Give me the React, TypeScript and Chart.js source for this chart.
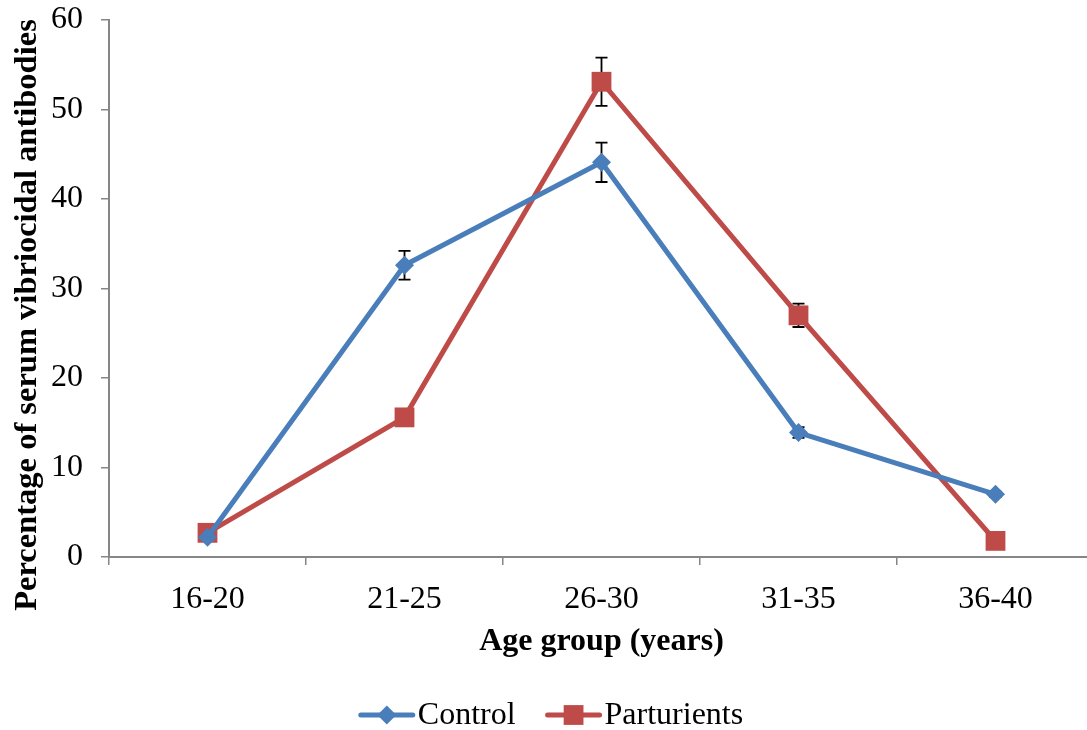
import React, { useEffect, useRef } from "react";
import { Chart, registerables } from "chart.js";

Chart.register(...registerables);

const categories = ["16-20", "21-25", "26-30", "31-35", "36-40"];
const controlValues = [2.2, 32.6, 44.1, 13.9, 7.0];
const controlErrors = [0.3, 1.6, 2.2, 0.6, 0.3];
const parturientValues = [2.7, 15.6, 53.1, 27.0, 1.8];
const parturientErrors = [0.3, 0.5, 2.7, 1.3, 0.3];
const yTicks = [0, 10, 20, 30, 40, 50, 60];
const seriesLabels = ["Control", "Parturients"];
const yTitle = "Percentage of serum vibriocidal antibodies";
const xTitle = "Age group (years)";

const FONT = "'Liberation Serif', 'Times New Roman', serif";
const FS = 32;
const BLUE = "#4A7EBB";
const RED = "#BE4B48";
const AXIS = "#868686";

const errorBarPlugin = {
  id: "errorBars",
  beforeDatasetsDraw(chart: any) {
    const ctx = chart.ctx;
    const yScale = chart.scales.y;
    chart.data.datasets.forEach((ds: any, i: number) => {
      const meta = chart.getDatasetMeta(i);
      const errs: number[] = ds.errors || [];
      meta.data.forEach((el: any, j: number) => {
        const v = ds.data[j];
        const e = errs[j] || 0;
        const x = el.x;
        const yt = yScale.getPixelForValue(v + e);
        const yb = yScale.getPixelForValue(v - e);
        ctx.save();
        ctx.strokeStyle = "#000";
        ctx.lineWidth = 1.8;
        ctx.beginPath();
        ctx.moveTo(x, yt);
        ctx.lineTo(x, yb);
        ctx.moveTo(x - 6, yt);
        ctx.lineTo(x + 6, yt);
        ctx.moveTo(x - 6, yb);
        ctx.lineTo(x + 6, yb);
        ctx.stroke();
        ctx.restore();
      });
    });
  },
};

const yTitlePlugin = {
  id: "yTitle",
  afterDraw(chart: any) {
    const ctx = chart.ctx;
    ctx.save();
    ctx.translate(28, 315);
    ctx.rotate(-Math.PI / 2);
    ctx.font = `bold 32.5px ${FONT}`;
    ctx.fillStyle = "#000";
    ctx.textAlign = "center";
    ctx.textBaseline = "middle";
    ctx.fillText(yTitle, 0, 0);
    ctx.restore();
  },
};

const legendPlugin = {
  id: "customLegend",
  afterDraw(chart: any) {
    const ctx = chart.ctx;
    const centerX = 551;
    const y = 715;
    const lineLen = 56;
    const gapText = 3;
    const gapItems = 30;
    ctx.save();
    ctx.font = `${FS}px ${FONT}`;
    const items = chart.data.datasets.map((ds: any) => ({
      ds,
      w: lineLen + gapText + ctx.measureText(ds.label).width,
    }));
    const total = items.reduce((s: number, it: any) => s + it.w, 0) + gapItems * (items.length - 1);
    let x = centerX - total / 2;
    items.forEach((it: any) => {
      const ds = it.ds;
      ctx.strokeStyle = ds.borderColor;
      ctx.lineWidth = 5;
      ctx.lineCap = "round";
      ctx.beginPath();
      ctx.moveTo(x + 2, y);
      ctx.lineTo(x + lineLen - 2, y);
      ctx.stroke();
      ctx.fillStyle = ds.pointBackgroundColor;
      ctx.beginPath();
      const cx = x + lineLen / 2;
      if (ds.pointStyle === "rectRot") {
        const r = ds.pointRadius;
        ctx.moveTo(cx, y - r);
        ctx.lineTo(cx + r, y);
        ctx.lineTo(cx, y + r);
        ctx.lineTo(cx - r, y);
        ctx.closePath();
      } else {
        const s = ds.pointRadius * Math.SQRT1_2;
        ctx.rect(cx - s, y - s, 2 * s, 2 * s);
      }
      ctx.fill();
      ctx.fillStyle = "#000";
      ctx.textBaseline = "middle";
      ctx.textAlign = "left";
      ctx.fillText(ds.label, x + lineLen + gapText, y + 1);
      x += it.w + gapItems;
    });
    ctx.restore();
  },
};

export default function App() {
  const ref = useRef<HTMLCanvasElement | null>(null);

  useEffect(() => {
    if (!ref.current) return;
    const chart = new Chart(ref.current, {
      type: "line",
      data: {
        labels: categories,
        datasets: [
          {
            label: seriesLabels[0],
            data: controlValues,
            errors: controlErrors,
            borderColor: BLUE,
            backgroundColor: BLUE,
            pointBackgroundColor: BLUE,
            pointBorderColor: BLUE,
            pointStyle: "rectRot",
            pointRadius: 9.5,
            pointBorderWidth: 0,
            borderWidth: 5,
            tension: 0,
            clip: false,
          } as any,
          {
            label: seriesLabels[1],
            data: parturientValues,
            errors: parturientErrors,
            borderColor: RED,
            backgroundColor: RED,
            pointBackgroundColor: RED,
            pointBorderColor: RED,
            pointStyle: "rect",
            pointRadius: 14,
            pointBorderWidth: 0,
            borderWidth: 5,
            tension: 0,
            clip: false,
          } as any,
        ],
      },
      options: {
        responsive: false,
        animation: false,
        devicePixelRatio: 1,
        layout: { autoPadding: false, padding: { top: 20, right: 0, bottom: 62, left: 0 } },
        plugins: {
          legend: { display: false },
          tooltip: { enabled: false },
        },
        scales: {
          x: {
            type: "category",
            offset: true,
            grid: {
              offset: true,
              drawOnChartArea: false,
              drawTicks: true,
              tickLength: 8,
              color: AXIS,
              lineWidth: 1.5,
            },
            border: { color: AXIS, width: 2 },
            ticks: {
              color: "#000",
              font: { family: FONT, size: FS },
              padding: 15,
              maxRotation: 0,
            },
            title: {
              display: true,
              text: xTitle,
              color: "#000",
              font: { family: FONT, size: FS, weight: "bold" },
              padding: { top: 0, bottom: 7 },
            },
            afterFit: (scale: any) => {
              scale.height = 111;
              scale.paddingLeft = 0;
              scale.paddingRight = 0;
              scale.paddingTop = 0;
              scale.paddingBottom = 0;
            },
          },
          y: {
            min: 0,
            max: 60,
            afterBuildTicks: (scale: any) => {
              scale.ticks = yTicks.map((v) => ({ value: v }));
            },
            grid: {
              drawOnChartArea: false,
              drawTicks: true,
              tickLength: 8,
              color: AXIS,
              lineWidth: 1.5,
            },
            border: { color: AXIS, width: 2 },
            ticks: {
              color: "#000",
              font: { family: FONT, size: FS },
              padding: 18,
            },
            title: { display: false },
            afterFit: (scale: any) => {
              scale.width = 109;
              scale.paddingLeft = 0;
              scale.paddingRight = 0;
              scale.paddingTop = 0;
              scale.paddingBottom = 0;
            },
          },
        },
      } as any,
      plugins: [errorBarPlugin, yTitlePlugin, legendPlugin],
    });
    return () => chart.destroy();
  }, []);

  return (
    <div style={{ position: "fixed", left: 0, top: 0, width: 1087, height: 730, overflow: "hidden", background: "#fff" }}>
      <canvas ref={ref} width={1094} height={730} style={{ display: "block" }} />
    </div>
  );
}
